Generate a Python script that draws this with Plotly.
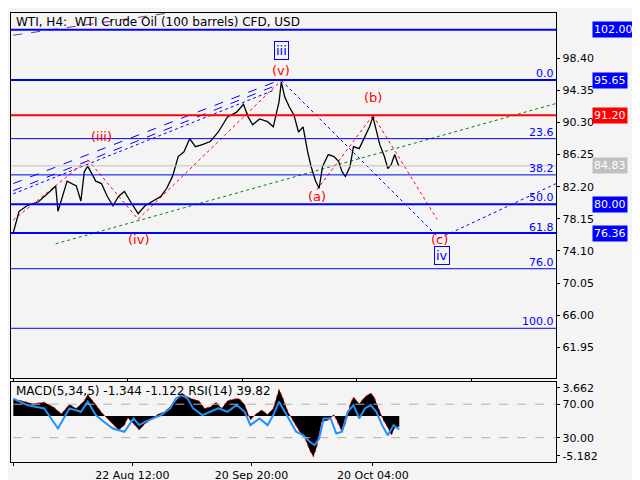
import plotly.graph_objects as go
from plotly.subplots import make_subplots

# price path (bar position, close)
bars = [0, 5, 12, 22, 32, 37, 39, 47, 55, 59, 62, 65, 72, 77, 82, 87, 92, 97, 102, 109, 115, 122,
        129, 134, 139, 144, 149, 154, 159, 165, 172, 179, 187, 195, 201, 205, 209, 215, 222, 227,
        232, 234, 237, 241, 245, 249, 253, 257, 260, 264, 267, 270, 275, 280, 284, 287, 290, 294,
        297, 302, 307, 311, 314, 317, 320, 324, 327, 330, 333, 336, 337]
close = [76.4, 79.1, 79.8, 80.3, 81.6, 82.3, 79.1, 82.9, 82.3, 80.4, 84.1, 84.8, 82.9, 82.6, 81.0,
         79.8, 81.0, 81.6, 80.4, 78.8, 79.8, 80.4, 81.0, 82.0, 83.5, 86.0, 86.6, 88.25, 87.25, 87.5,
         87.9, 89.1, 91.0, 91.6, 92.6, 91.0, 90.0, 90.75, 90.4, 89.75, 92.9, 95.4, 93.5, 92.25, 91.25,
         89.1, 89.75, 86.6, 84.75, 82.9, 82.0, 84.75, 86.25, 86.0, 85.4, 84.1, 83.5, 84.75, 87.25,
         87.0, 88.5, 89.75, 91.0, 89.1, 87.5, 86.0, 84.5, 85.0, 86.25, 85.0, 84.83]

macd_bars = [0, 7, 17, 27, 35, 42, 49, 55, 62, 65, 72, 77, 82, 87, 92, 97, 100, 105, 110, 115, 122,
             127, 132, 137, 142, 147, 152, 157, 162, 167, 172, 177, 182, 187, 192, 197, 202, 207,
             212, 217, 222, 227, 232, 235, 240, 245, 250, 255, 259, 262, 265, 269, 275, 280, 284,
             287, 290, 294, 297, 302, 307, 312, 315, 319, 323, 327, 330, 333, 337]
macd = [2.2, 2.0, 1.6, 1.8, 1.2, 0.3, 1.5, 1.0, 2.0, 2.8, 1.5, 0.5, -0.3, -1.0, -1.8, -1.2, -0.2,
        -1.0, -1.8, -1.0, -0.2, 0.3, 0.5, 1.2, 2.0, 3.0, 2.5, 2.2, 2.0, 1.0, 1.2, 1.8, 1.0, 2.0, 2.2,
        2.3, 1.5, -0.5, 0.3, 0.8, 0.2, 1.0, 3.5, 2.5, 0.5, -0.8, -2.0, -3.0, -4.5, -5.3, -4.0, -0.8,
        -0.5, 0.2, -1.0, -2.0, -1.0, 1.5, 2.5, 1.6, 2.5, 3.0, 2.5, 1.0, -0.5, -1.5, -2.5, -1.5, -1.34]

rsi_bars = [0, 12, 27, 39, 49, 59, 65, 72, 79, 87, 97, 105, 110, 115, 122, 129, 137, 142, 147, 152,
            157, 165, 172, 179, 187, 195, 202, 207, 215, 222, 227, 232, 237, 242, 247, 253, 259, 263,
            267, 271, 277, 282, 287, 292, 297, 302, 307, 312, 317, 322, 327, 332, 337]
rsi = [76.8, 69, 65, 41, 65, 61, 73, 57, 49, 41, 37, 53, 45, 49, 53, 57, 65, 77, 81, 77, 65, 57, 61,
       65, 61, 69, 61, 45, 53, 45, 57, 73, 61, 49, 37, 33, 25, 21, 29, 53, 53, 35, 37, 61, 69, 53, 65,
       69, 61, 45, 33, 45, 39.82]

# horizontal levels and right-side tags
levels = [102.00, 95.65, 91.20, 80.00, 76.36]
level_colors = ["#0000ff", "#0000ff", "#ff0000", "#0000ff", "#0000ff"]
fib_pct = ["0.0", "23.6", "38.2", "50.0", "61.8", "76.0", "100.0"]
fib_price = [95.65, 88.26, 83.69, 80.00, 76.30, 71.86, 64.35]
last_price = 84.83

# wave labels
wave_x = [77, 109, 234, 234, 265, 314, 372, 374]
wave_y = [88.5, 75.6, 99.4, 96.9, 81.0, 93.4, 75.6, 73.5]
wave_t = ["(iii)", "(iv)", "iii", "(v)", "(a)", "(b)", "(c)", "iv"]

tick_vals = [0, 104, 208, 314]
tick_text = ["24 Jul 2023", "22 Aug 12:00", "20 Sep 20:00", "20 Oct 04:00"]
price_ticks = [98.40, 94.35, 90.30, 86.25, 82.20, 78.15, 74.10, 70.05, 66.00, 61.95]

XMAX = 474
fig = make_subplots(rows=2, cols=1, shared_xaxes=True, row_heights=[0.82, 0.18],
                    vertical_spacing=0.009, specs=[[{}], [{"secondary_y": True}]])

bg = "#f4f4f4"

def seg(x0, y0, x1, y1, color, dash, width=1):
    fig.add_trace(go.Scatter(x=[x0, x1], y=[y0, y1], mode="lines", hoverinfo="skip",
                             line=dict(color=color, dash=dash, width=width)), row=1, col=1)

seg(0, 101.3, 160, 104.6, "#7030a0", "dash")
seg(0, 82.6, 232, 95.6, "#0000ff", "dash")
seg(0, 81.7, 230, 95.0, "#0000ff", "dash")
seg(0, 81.3, 228, 94.4, "#0000ff", "dot")
seg(234, 95.6, 372, 75.7, "#0000ff", "dot")
seg(372, 75.7, XMAX, 82.6, "#0000ff", "dot")
seg(37, 75.0, XMAX, 92.7, "#008000", "dot")
seg(0, 78.0, 65, 85.6, "#ff0000", "dot")
seg(65, 85.6, 109, 78.1, "#ff0000", "dot")
seg(109, 78.1, 234, 95.6, "#ff0000", "dot")
seg(265, 81.8, 314, 91.2, "#ff0000", "dot")
seg(314, 91.2, 370, 78.1, "#ff0000", "dot")

for p, c in zip(levels, level_colors):
    fig.add_hline(y=p, line=dict(color=c, width=2), row=1, col=1)
for p in fib_price:
    if p not in levels:
        fig.add_hline(y=p, line=dict(color="#0000ff", width=1), row=1, col=1)
fig.add_hline(y=last_price, line=dict(color="#c0c0c0", width=1), row=1, col=1)

fig.add_trace(go.Scatter(x=bars, y=close, mode="lines", line=dict(color="black", width=1.3),
                         hoverinfo="skip"), row=1, col=1)

for t, p in zip(fib_pct, fib_price):
    fig.add_annotation(x=XMAX, y=p, text=t, showarrow=False, xanchor="right", yanchor="bottom",
                       font=dict(color="#0000ff", size=11), yshift=-2, row=1, col=1)
for x, y, t in zip(wave_x, wave_y, wave_t):
    circled = not t.startswith("(")
    col = "#0000ff" if circled else "#ff0000"
    fig.add_annotation(x=x, y=y, text=t, showarrow=False, font=dict(color=col, size=13),
                       bordercolor=col if circled else "rgba(0,0,0,0)",
                       borderwidth=1 if circled else 0, borderpad=1, row=1, col=1)

for p, c in zip(levels + [last_price], level_colors + ["#c0c0c0"]):
    fig.add_annotation(x=1.0, xref="paper", y=p, yref="y", text=f"{p:.2f}", showarrow=False,
                       xanchor="left", bgcolor=c, font=dict(color="white", size=11), xshift=1)

# indicator panel
fig.add_trace(go.Scatter(x=macd_bars, y=macd, mode="lines", fill="tozeroy", fillcolor="black",
                         line=dict(color="#ff0000", width=1, dash="dot"), hoverinfo="skip"),
              row=2, col=1, secondary_y=False)
fig.add_trace(go.Scatter(x=rsi_bars, y=rsi, mode="lines", line=dict(color="#1e90ff", width=2),
                         hoverinfo="skip"), row=2, col=1, secondary_y=True)
for lv in [70, 30]:
    fig.add_trace(go.Scatter(x=[0, XMAX], y=[lv, lv], mode="lines", hoverinfo="skip",
                             line=dict(color="#b0b0b0", dash="dash", width=1)),
                  row=2, col=1, secondary_y=True)

fig.add_annotation(x=0.005, xref="paper", y=1, yref="y2 domain", text="MACD(5,34,5) -1.344 -1.122 RSI(14) 39.82",
                   showarrow=False, xanchor="left", yanchor="top", font=dict(size=12, color="black"))
fig.add_annotation(x=0.005, xref="paper", y=1, yref="paper", text="WTI, H4:  WTI Crude Oil (100 barrels) CFD, USD",
                   showarrow=False, xanchor="left", yanchor="top", font=dict(size=12, color="black"))

ax = dict(showgrid=False, zeroline=False, mirror=True, showline=True, linecolor="black",
          ticks="outside", ticklen=3, tickcolor="black")
fig.update_xaxes(range=[-2, XMAX], **ax)
fig.update_xaxes(tickvals=tick_vals, ticktext=tick_text, tickfont=dict(size=11), row=2, col=1)
fig.update_yaxes(range=[58.1, 104.1], side="right", tickvals=price_ticks,
                 ticktext=[f"{v:.2f}" for v in price_ticks], tickfont=dict(size=11), row=1, col=1, **ax)
fig.update_yaxes(range=[-5.97, 4.45], tickvals=[3.662, -5.182], ticktext=["3.662", "-5.182"],
                 tickfont=dict(size=11), side="right", row=2, col=1, secondary_y=False, **ax)
fig.update_yaxes(range=[0.9, 96.7], tickvals=[70, 30], ticktext=["70.00", "30.00"],
                 tickfont=dict(size=11), side="right", row=2, col=1, secondary_y=True, **ax)

fig.update_layout(width=640, height=480, showlegend=False, paper_bgcolor=bg, plot_bgcolor=bg,
                  margin=dict(l=3, r=57, t=5, b=26),
                  font=dict(family="DejaVu Sans", size=12, color="black"))
fig.write_html("out.html")
